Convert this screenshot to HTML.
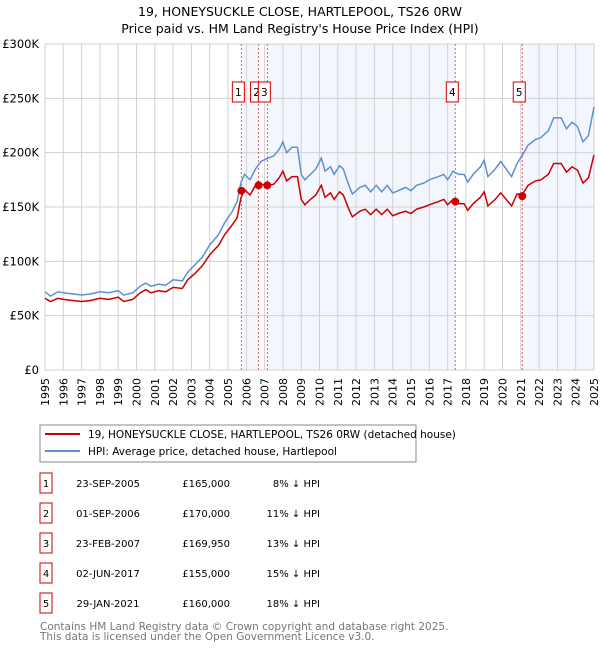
<!DOCTYPE html>
<html><head><meta charset="utf-8"><style>
body{margin:0;background:#fff;font-family:"DejaVu Sans","Liberation Sans",sans-serif;}
svg text{font-family:"DejaVu Sans","Liberation Sans",sans-serif;}
</style></head><body>
<svg id="c" width="600" height="650" xmlns="http://www.w3.org/2000/svg">
<text x="300" y="16" text-anchor="middle" font-size="12.5">19, HONEYSUCKLE CLOSE, HARTLEPOOL, TS26 0RW</text>
<text x="300" y="33" text-anchor="middle" font-size="12.5">Price paid vs. HM Land Registry's House Price Index (HPI)</text>
<g id="bands"></g><g id="grid"></g><g id="vlines"></g><g id="series"></g><g id="marks"></g><g id="axes"></g>
<rect x="40" y="425" width="376" height="37" fill="#fff" stroke="#888"/>
<line x1="45" y1="434" x2="80" y2="434" stroke="#cc0000" stroke-width="2"/>
<text x="88" y="438" font-size="10.5">19, HONEYSUCKLE CLOSE, HARTLEPOOL, TS26 0RW (detached house)</text>
<line x1="45" y1="451" x2="80" y2="451" stroke="#6090d0" stroke-width="2"/>
<text x="88" y="455" font-size="10.5">HPI: Average price, detached house, Hartlepool</text>
<g id="table"></g>
<text x="40" y="630" font-size="10.5" fill="#777">Contains HM Land Registry data © Crown copyright and database right 2025.</text>
<text x="40" y="640" font-size="10.5" fill="#777">This data is licensed under the Open Government Licence v3.0.</text>
</svg>
<script>
const hpiT=[1995,1995.3,1995.7,1996,1996.5,1997,1997.5,1998,1998.5,1999,1999.3,1999.8,2000.2,2000.5,2000.8,2001.2,2001.6,2002,2002.5,2002.8,2003.2,2003.6,2004,2004.5,2004.8,2005.2,2005.5,2005.7,2005.9,2006.2,2006.5,2006.8,2007.2,2007.5,2007.8,2008,2008.2,2008.5,2008.8,2009,2009.2,2009.5,2009.8,2010.1,2010.3,2010.6,2010.8,2011.1,2011.3,2011.6,2011.8,2012.2,2012.5,2012.8,2013.1,2013.4,2013.7,2014,2014.3,2014.7,2015,2015.3,2015.7,2016,2016.5,2016.8,2017,2017.3,2017.6,2017.9,2018.1,2018.4,2018.8,2019,2019.2,2019.6,2019.9,2020.2,2020.5,2020.8,2021.1,2021.4,2021.8,2022.1,2022.5,2022.8,2023.2,2023.5,2023.8,2024.1,2024.4,2024.7,2025];
const hpiV=[72,68,72,71,70,69,70,72,71,73,69,71,77,80,77,79,78,83,82,90,97,104,115,125,135,145,155,172,180,175,185,192,195,197,203,210,200,205,205,180,175,180,185,195,183,187,180,188,185,170,162,168,170,164,170,164,170,163,165,168,165,170,172,175,178,180,175,183,180,180,173,180,187,193,178,185,192,185,178,190,198,207,212,214,220,232,232,222,228,224,210,216,242];
const priceV=[66,63,66,65,64,63,64,66,65,67,63,65,71,74,71,73,72,76,75,83,89,96,106,115,124,133,140,158,166,161,170,171,170,171,177,183,174,178,178,157,152,157,161,170,159,163,157,164,161,148,141,146,148,143,148,143,148,142,144,146,144,148,150,152,155,157,152,157,153,153,147,153,159,164,151,157,163,157,151,162,162,170,174,175,180,190,190,182,187,184,172,177,198];
const saleT=[2005.73,2006.67,2007.15,2017.42,2021.08];
const saleV=[165,170,169.95,155,160];
const saleLbl=["1","2","3","4","5"];
const saleDate=["23-SEP-2005","01-SEP-2006","23-FEB-2007","02-JUN-2017","29-JAN-2021"];
const salePrice=["£165,000","£170,000","£169,950","£155,000","£160,000"];
const salePct=["8% ↓ HPI","11% ↓ HPI","13% ↓ HPI","15% ↓ HPI","18% ↓ HPI"];
const yTicks=[0,50,100,150,200,250,300];
const yLbl=["£0","£50K","£100K","£150K","£200K","£250K","£300K"];
const NS="http://www.w3.org/2000/svg";
const X0=45,X1=594,Y0=370,Y1=44;
const x=t=>X0+(t-1995)/30*(X1-X0);
const y=v=>Y0-v/300*(Y0-Y1);
function el(tag,a,p){const e=document.createElementNS(NS,tag);for(const k in a)e.setAttribute(k,a[k]);document.getElementById(p).appendChild(e);return e;}
[[0,1],[2,3],[4,null]].forEach(([a,b])=>{const e=el('rect',{x:x(saleT[a]),y:Y1,width:(b===null?X1:x(saleT[b]))-x(saleT[a]),height:Y0-Y1,fill:'#eef3fc',opacity:0.7},'bands');

});
for(let yr=1995;yr<=2025;yr++){const e=el('line',{x1:x(yr),x2:x(yr),y1:Y1,y2:Y0,stroke:'#d0d0d0'},'grid');


const t=el('text',{x:0,y:0,'font-size':11,'text-anchor':'end',transform:`translate(${x(yr)+4},378) rotate(-90)`},'axes');t.textContent=yr;

}
yTicks.forEach((v,i)=>{const e=el('line',{x1:X0,x2:X1,y1:y(v),y2:y(v),stroke:'#d0d0d0'},'grid');


const t=el('text',{x:X0-6,y:y(v)+4,'font-size':11.5,'text-anchor':'end'},'axes');t.textContent=yLbl[i];

});
saleT.forEach((t,i)=>{const l=el('line',{x1:x(t),x2:x(t),y1:Y1,y2:Y0,stroke:'#e06060','stroke-dasharray':'2,2'},'vlines');


const bx=x(t)-9+(i===1?1:0);
const r=el('rect',{x:bx,y:82,width:12,height:20,fill:'#fff',stroke:'#cc0000'},'marks');


const tx=el('text',{x:bx+6,y:96,'font-size':10.5,'text-anchor':'middle'},'marks');tx.textContent=saleLbl[i];

});
function path(T,V,c,n){const p=el('path',{d:T.map((t,i)=>(i?'L':'M')+x(t).toFixed(1)+','+y(V[i]).toFixed(1)).join(''),fill:'none',stroke:c,'stroke-width':1.5},'series');

}
path(hpiT,hpiV,'#6090d0','hpi-line');
path(hpiT,priceV,'#cc0000','price-line');
saleT.forEach((t,i)=>{const c=el('circle',{cx:x(t),cy:y(saleV[i]),r:4,fill:'#cc0000'},'marks');

});
saleT.forEach((t,i)=>{const yy=483+i*30;
const r=el('rect',{x:40,y:yy-10,width:12,height:20,fill:'#fff',stroke:'#cc0000'},'table');


const cols=[[46,saleLbl[i],'middle'],[108,saleDate[i],'middle'],[230,salePrice[i],'end'],[320,salePct[i],'end']];
cols.forEach(([cx,s,a])=>{const tt=el('text',{x:cx,y:yy+4,'font-size':10,'text-anchor':a},'table');tt.textContent=s;

});});
</script>
</body></html>
